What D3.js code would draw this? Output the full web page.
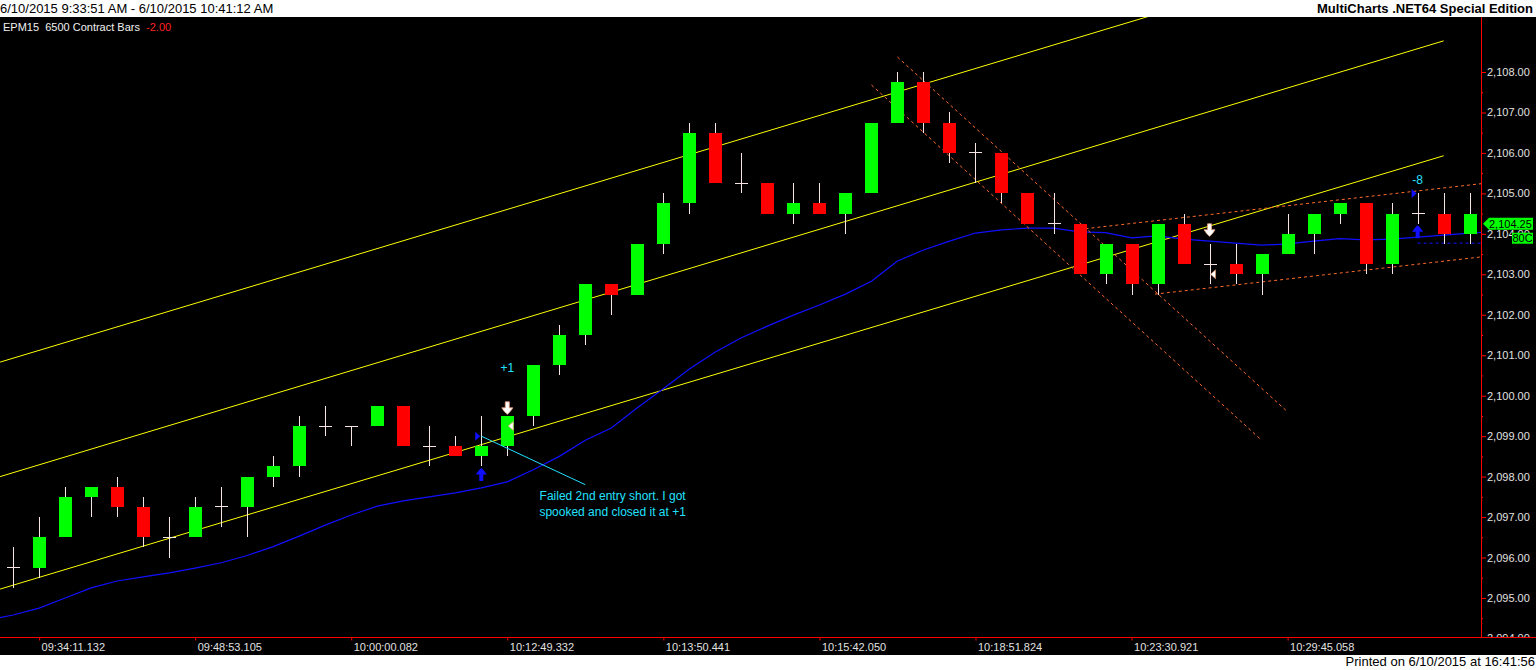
<!DOCTYPE html>
<html>
<head>
<meta charset="utf-8">
<script src="https://cdnjs.cloudflare.com/ajax/libs/d3/7.8.5/d3.min.js"></script>
<style>
  html, body { margin: 0; padding: 0; background: #000; overflow: hidden; }
  svg { display: block; font-family: "Liberation Sans", Arial, sans-serif; }
</style>
</head>
<body>
<div id="chart"></div>
<script>
// OHLC per bar (6500 contract bars, EPM15)
const opens  = [2095.75, 2095.75, 2096.5, 2097.5, 2097.75, 2097.25, 2096.5, 2096.5, 2097.25, 2097.25,
                2098, 2098.25, 2099.25, 2099.25, 2099.25, 2099.75, 2098.75, 2098.75, 2098.5, 2098.75,
                2099.5, 2100.75, 2101.5, 2102.75, 2102.5, 2103.75, 2104.75, 2106.5, 2105.25, 2105.25,
                2104.5, 2104.75, 2104.5, 2105, 2106.75, 2107.75, 2106.75, 2106, 2106, 2105,
                2104.25, 2104.25, 2103, 2103.75, 2102.75, 2104.25, 2103.25, 2103.25, 2103, 2103.5,
                2104, 2104.5, 2104.75, 2103.25, 2104.5, 2104.5, 2104];
const highs  = [2096.25, 2097, 2097.75, 2097.75, 2098, 2097.5, 2097, 2097.5, 2097.75, 2098,
                2098.5, 2099.5, 2099.75, 2099.25, 2099.75, 2099.75, 2099.25, 2099, 2099.5, 2099.5,
                2100.75, 2101.75, 2102.75, 2102.75, 2103.75, 2105, 2106.75, 2106.75, 2106, 2105.25,
                2105.25, 2105.25, 2105, 2106.75, 2108, 2108, 2107, 2106.25, 2106, 2105,
                2105, 2104.25, 2103.75, 2103.75, 2104.25, 2104.5, 2103.75, 2103.75, 2103.5, 2104.5,
                2104.5, 2104.75, 2104.75, 2104.75, 2105, 2105, 2105];
const lows   = [2095.25, 2095.5, 2096.5, 2097, 2097, 2096.25, 2096, 2096.5, 2096.75, 2096.5,
                2097.75, 2098, 2099, 2098.75, 2099.25, 2098.75, 2098.25, 2098.5, 2098.25, 2098.5,
                2099.25, 2100.5, 2101.25, 2102, 2102.5, 2103.5, 2104.5, 2105.25, 2105, 2104.5,
                2104.25, 2104.5, 2104, 2105, 2106.75, 2106.5, 2105.75, 2105.25, 2104.75, 2104.25,
                2104, 2103, 2102.75, 2102.5, 2102.5, 2103.25, 2102.75, 2102.75, 2102.5, 2103.5,
                2103.5, 2104.25, 2103, 2103, 2104.25, 2103.75, 2103.75];
const closes = [2095.75, 2096.5, 2097.5, 2097.75, 2097.25, 2096.5, 2096.5, 2097.25, 2097.25, 2098,
                2098.25, 2099.25, 2099.25, 2099.25, 2099.75, 2098.75, 2098.75, 2098.5, 2098.75, 2099.5,
                2100.75, 2101.5, 2102.75, 2102.5, 2103.75, 2104.75, 2106.5, 2105.25, 2105.25, 2104.5,
                2104.75, 2104.5, 2105, 2106.75, 2107.75, 2106.75, 2106, 2106, 2105, 2104.25,
                2104.25, 2103, 2103.75, 2102.75, 2104.25, 2103.25, 2103.25, 2103, 2103.5, 2104,
                2104.5, 2104.75, 2103.25, 2104.5, 2104.5, 2104, 2104.5];

// moving average, one value per bar starting at bar -1
const maStartBar = -1;
const maValues = [2094.45, 2094.58, 2094.75, 2095.0, 2095.25, 2095.42, 2095.52, 2095.62, 2095.74, 2095.87,
                  2096.05, 2096.27, 2096.53, 2096.8, 2097.05, 2097.27, 2097.4, 2097.5, 2097.6, 2097.72,
                  2097.87, 2098.17, 2098.5, 2098.9, 2099.2, 2099.7, 2100.17, 2100.66, 2101.08, 2101.43,
                  2101.72, 2101.99, 2102.24, 2102.51, 2102.83, 2103.33, 2103.6, 2103.82, 2104.02, 2104.1,
                  2104.14, 2104.14, 2104.05, 2104.03, 2103.9, 2103.95, 2103.87, 2103.82, 2103.77, 2103.72,
                  2103.75, 2103.82, 2103.88, 2103.85, 2103.87, 2103.92, 2103.97, 2104.02, 2104.05];

// drawn trend lines: [bar1, price1, bar2, price2]
const yellowChannel = [
  [-0.5, 2100.83, 55, 2111.57],
  [-0.5, 2098.0, 55, 2108.77],
  [-0.5, 2095.22, 55, 2105.93]
];
const orangeChannels = [
  [34, 2108.37, 49, 2099.6],
  [33, 2107.68, 48, 2098.9],
  [41, 2104.11, 56.45, 2105.24],
  [43.9, 2102.51, 56.45, 2103.43]
];
const noteLine = [18, 2099, 22, 2097.8];
const noteLines = ['Failed 2nd entry short. I got', 'spooked and closed it at +1'];
const noteAt = [23.05, 2097.53, 2097.12];

// trade markers
const entryMarks = [{ bar: 18, price: 2099 }, { bar: 54, price: 2105 }];
const exitMarks = [{ bar: 19, price: 2099.25 }, { bar: 46, price: 2103 }];
const buyArrows = [{ bar: 18, price: 2098.05 }, { bar: 54, price: 2104.05 }];
const sellArrows = [{ bar: 19, price: 2099.7 }, { bar: 46, price: 2104.1 }];
const tradeLabels = [{ bar: 19, price: 2100.7, text: '+1' }, { bar: 54, price: 2105.33, text: '-8' }];
const positionPrice = 2103.77;
const positionFromBar = 54;
const lastPrice = 2104.25;

// axes
const priceTicks = d3.range(2094, 2108.01, 1);
const priceMinorTicks = d3.range(2094.5, 2108.01, 1);
const timeTickBars = [1, 7, 13, 19, 25, 31, 37, 43, 49];
const timeTickLabels = ['09:34:11.132', '09:48:53.105', '10:00:00.082', '10:12:49.332', '10:13:50.441',
                        '10:15:42.050', '10:18:51.824', '10:23:30.921', '10:29:45.058'];

const COLORS = {
  up: '#00ff00', down: '#ff0000', wick: '#f6e4e4', yellow: '#ffff00',
  ma: '#1010ff', orange: '#ff6a2a', cyan: '#22e0ff', axis: '#ff0000', text: '#e2e2e2'
};

const W = 1536, H = 670;
const plot = { left: 0, top: 17, right: 1481, bottom: 637 };

const x = d3.scaleLinear().domain([0, 56]).range([13.1, 13.1 + 56 * 26.01]);
const y = d3.scaleLinear().domain([2094, 2108]).range([72 + 14 * 40.46, 72]);
const bodyW = 13;

const svg = d3.select('#chart').append('svg').attr('width', W).attr('height', H);
svg.append('rect').attr('width', W).attr('height', H).attr('fill', '#000');

const defs = svg.append('defs');
defs.append('clipPath').attr('id', 'plotClip').append('rect')
  .attr('x', plot.left).attr('y', plot.top)
  .attr('width', plot.right - plot.left).attr('height', plot.bottom - plot.top);
defs.append('clipPath').attr('id', 'axisClip').append('rect')
  .attr('x', plot.right).attr('y', plot.top)
  .attr('width', W - plot.right).attr('height', plot.bottom - plot.top);

const g = svg.append('g').attr('clip-path', 'url(#plotClip)');

// yellow regression channel
g.append('g').selectAll('line').data(yellowChannel).join('line')
  .attr('x1', d => x(d[0])).attr('y1', d => y(d[1]))
  .attr('x2', d => x(d[2])).attr('y2', d => y(d[3]))
  .attr('stroke', COLORS.yellow).attr('stroke-width', 1);

// moving average
const maLine = d3.line().x((d, i) => x(maStartBar + i)).y(d => y(d));
g.append('path').datum(maValues).attr('d', maLine)
  .attr('fill', 'none').attr('stroke', COLORS.ma).attr('stroke-width', 1.2);

// orange dashed channels
g.append('g').selectAll('line').data(orangeChannels).join('line')
  .attr('x1', d => x(d[0])).attr('y1', d => y(d[1]))
  .attr('x2', d => x(d[2])).attr('y2', d => y(d[3]))
  .attr('stroke', COLORS.orange).attr('stroke-width', 1).attr('stroke-dasharray', '3,3');

// open position line
g.append('line')
  .attr('x1', x(positionFromBar)).attr('x2', plot.right)
  .attr('y1', y(positionPrice)).attr('y2', y(positionPrice))
  .attr('stroke', COLORS.ma).attr('stroke-width', 1).attr('stroke-dasharray', '3,3');

// candles
const bars = d3.range(opens.length).map(i => ({
  i, o: opens[i], h: highs[i], l: lows[i], c: closes[i]
}));

const candle = g.append('g').attr('shape-rendering', 'crispEdges');
candle.selectAll('line.wick').data(bars).join('line').attr('class', 'wick')
  .attr('x1', d => Math.round(x(d.i)) + 0.5).attr('x2', d => Math.round(x(d.i)) + 0.5)
  .attr('y1', d => y(d.h)).attr('y2', d => y(d.l))
  .attr('stroke', COLORS.wick).attr('stroke-width', 1);

candle.selectAll('rect.body').data(bars.filter(d => d.o !== d.c)).join('rect').attr('class', 'body')
  .attr('x', d => Math.round(x(d.i)) - 6)
  .attr('width', bodyW)
  .attr('y', d => y(Math.max(d.o, d.c)))
  .attr('height', d => y(Math.min(d.o, d.c)) - y(Math.max(d.o, d.c)))
  .attr('fill', d => d.c > d.o ? COLORS.up : COLORS.down);

candle.selectAll('line.doji').data(bars.filter(d => d.o === d.c)).join('line').attr('class', 'doji')
  .attr('x1', d => Math.round(x(d.i)) - 6).attr('x2', d => Math.round(x(d.i)) + 7)
  .attr('y1', d => y(d.o)).attr('y2', d => y(d.o))
  .attr('stroke', COLORS.wick).attr('stroke-width', 1);

// note line + text
g.append('line')
  .attr('x1', x(noteLine[0])).attr('y1', y(noteLine[1]))
  .attr('x2', x(noteLine[2])).attr('y2', y(noteLine[3]))
  .attr('stroke', COLORS.cyan).attr('stroke-width', 1);
g.append('g').selectAll('text').data(noteLines).join('text')
  .attr('x', x(noteAt[0]))
  .attr('y', (d, i) => y(noteAt[i + 1]))
  .attr('dy', '0.35em')
  .attr('text-anchor', 'middle')
  .attr('fill', COLORS.cyan).attr('font-size', '12px')
  .text(d => d);

// markers
g.append('g').selectAll('path').data(entryMarks).join('path')
  .attr('transform', d => `translate(${x(d.bar)},${y(d.price)})`)
  .attr('d', 'M-6,-4.5L-1,0L-6,4.5Z').attr('fill', COLORS.ma);
g.append('g').selectAll('path').data(exitMarks).join('path')
  .attr('transform', d => `translate(${x(d.bar)},${y(d.price)})`)
  .attr('d', 'M1,0L6,-4.5L6,4.5Z').attr('fill', '#ffffff')
  .attr('stroke', '#e08a5a').attr('stroke-width', 0.6);
g.append('g').selectAll('path').data(buyArrows).join('path')
  .attr('transform', d => `translate(${x(d.bar)},${y(d.price)})`)
  .attr('d', 'M0,-6.5C2,-5 4,-2.5 5.5,0L2,0L2,6.5L-2,6.5L-2,0L-5.5,0C-4,-2.5 -2,-5 0,-6.5Z')
  .attr('fill', COLORS.ma);
g.append('g').selectAll('path').data(sellArrows).join('path')
  .attr('transform', d => `translate(${x(d.bar)},${y(d.price)})`)
  .attr('d', 'M0,6.5C2,5 4,2.5 5.5,0L2,0L2,-6L-2,-6L-2,0L-5.5,0C-4,2.5 -2,5 0,6.5Z')
  .attr('fill', '#ffffff').attr('stroke', '#e8a080').attr('stroke-width', 0.8);
g.append('g').selectAll('text').data(tradeLabels).join('text')
  .attr('x', d => x(d.bar)).attr('y', d => y(d.price)).attr('dy', '0.35em')
  .attr('text-anchor', 'middle').attr('fill', COLORS.cyan).attr('font-size', '12px')
  .text(d => d.text);

// price axis
const axisG = svg.append('g').attr('clip-path', 'url(#axisClip)');
const yAxis = axisG.append('g').attr('transform', `translate(${plot.right},0)`)
  .call(d3.axisRight(y).tickValues(priceTicks).tickFormat(d3.format(',.2f')).tickSize(5).tickPadding(1));
yAxis.select('.domain').remove();
yAxis.selectAll('line').attr('stroke', COLORS.axis);
yAxis.selectAll('text').attr('fill', COLORS.text).attr('font-size', '11px')
  .attr('font-family', '"Liberation Sans", Arial, sans-serif');
const yMinor = axisG.append('g').attr('transform', `translate(${plot.right},0)`)
  .call(d3.axisRight(y).tickValues(priceMinorTicks).tickFormat('').tickSize(2));
yMinor.select('.domain').remove();
yMinor.selectAll('line').attr('stroke', COLORS.axis);

svg.append('line').attr('x1', plot.right + 0.5).attr('x2', plot.right + 0.5)
  .attr('y1', plot.top).attr('y2', plot.bottom)
  .attr('stroke', COLORS.axis).attr('stroke-width', 1);

// last price marker
const lp = y(lastPrice);
svg.append('path')
  .attr('d', `M${plot.right + 2},${lp}L${plot.right + 8},${lp - 6}L${W - 3},${lp - 6}L${W - 3},${lp + 6}L${plot.right + 8},${lp + 6}Z`)
  .attr('fill', COLORS.up);
svg.append('text').attr('x', plot.right + 8).attr('y', lp).attr('dy', '0.35em')
  .attr('fill', '#000').attr('font-size', '11px').text(d3.format(',.2f')(lastPrice));
svg.append('rect').attr('x', 1512).attr('y', lp + 9).attr('width', W - 3 - 1512).attr('height', 11)
  .attr('fill', COLORS.up);
svg.append('text').attr('x', (1512 + W - 3) / 2).attr('y', lp + 14.5).attr('dy', '0.35em')
  .attr('text-anchor', 'middle').attr('fill', '#000').attr('font-size', '11px').text('80C');

// time axis
svg.append('line').attr('x1', 0).attr('x2', W)
  .attr('y1', plot.bottom + 0.5).attr('y2', plot.bottom + 0.5)
  .attr('stroke', COLORS.axis).attr('stroke-width', 1);
const xAxis = svg.append('g').attr('transform', `translate(0,${plot.bottom + 0.5})`)
  .call(d3.axisBottom(x).tickValues(timeTickBars).tickFormat((d, i) => timeTickLabels[i])
    .tickSize(3).tickPadding(3));
xAxis.select('.domain').remove();
xAxis.selectAll('line').attr('stroke', COLORS.axis);
xAxis.selectAll('text').attr('text-anchor', 'start').attr('dx', 2)
  .attr('fill', COLORS.text).attr('font-size', '11px')
  .attr('font-family', '"Liberation Sans", Arial, sans-serif');

// header strips
svg.append('rect').attr('x', 0).attr('y', 0).attr('width', W).attr('height', plot.top).attr('fill', '#fff');
svg.append('text').attr('x', 0).attr('y', 13).attr('fill', '#000').attr('font-size', '13px')
  .text('6/10/2015 9:33:51 AM - 6/10/2015 10:41:12 AM');
svg.append('text').attr('x', W - 3).attr('y', 13).attr('text-anchor', 'end')
  .attr('fill', '#000').attr('font-size', '13px').attr('font-weight', 'bold')
  .text('MultiCharts .NET64 Special Edition');

const title = svg.append('text').attr('x', 3).attr('y', 31).attr('font-size', '11px');
title.append('tspan').attr('fill', '#f0f0f0').attr('xml:space', 'preserve').text('EPM15\u00a0\u00a06500 Contract Bars\u00a0\u00a0');
title.append('tspan').attr('fill', '#ff2020').text('-2.00');

svg.append('rect').attr('x', 0).attr('y', 655).attr('width', W).attr('height', H - 655).attr('fill', '#fff');
svg.append('text').attr('x', W - 1).attr('y', 666).attr('text-anchor', 'end')
  .attr('fill', '#000').attr('font-size', '13px')
  .text('Printed on 6/10/2015 at 16:41:56');
</script>
</body>
</html>
